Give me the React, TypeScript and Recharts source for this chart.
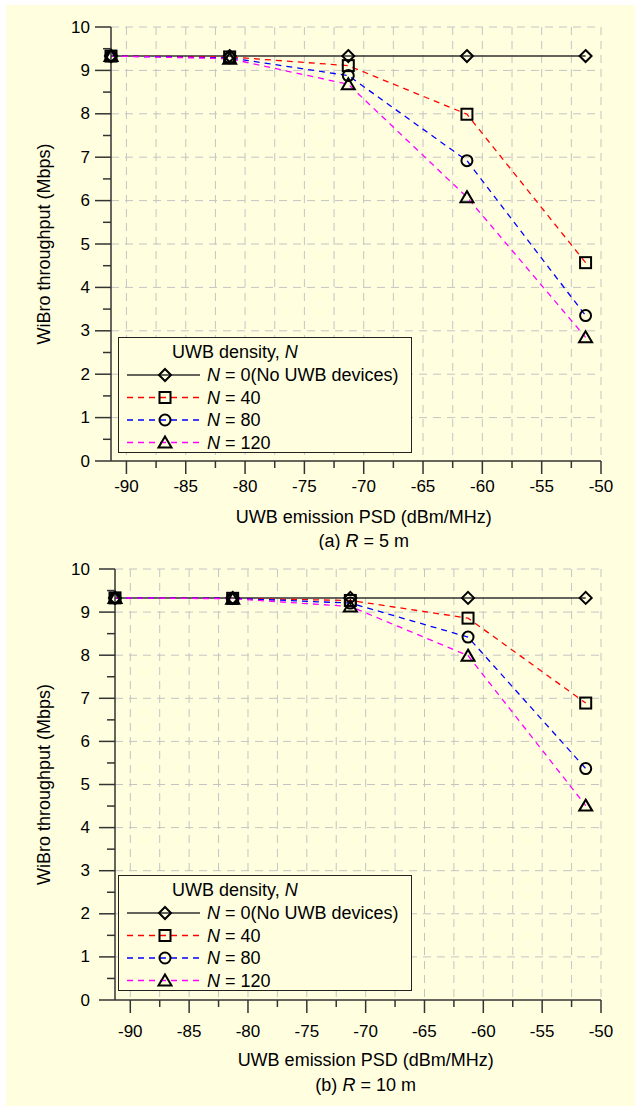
import { CartesianGrid, Legend, Line, LineChart, XAxis, YAxis } from "recharts";

// UWB emission PSD (dBm/MHz)
const psd = [-91.3, -81.3, -71.3, -61.3, -51.3];

// (a) R = 5 m, WiBro throughput (Mbps)
const r5N0 = [9.33, 9.33, 9.33, 9.33, 9.33];
const r5N40 = [9.33, 9.31, 9.11, 7.99, 4.57];
const r5N80 = [9.33, 9.29, 8.88, 6.92, 3.35];
const r5N120 = [9.33, 9.27, 8.68, 6.08, 2.85];

// (b) R = 10 m
const r10N0 = [9.33, 9.33, 9.33, 9.33, 9.33];
const r10N40 = [9.33, 9.32, 9.27, 8.86, 6.89];
const r10N80 = [9.33, 9.32, 9.21, 8.42, 5.37];
const r10N120 = [9.33, 9.31, 9.13, 7.99, 4.51];

const xTicks = [-90, -87.5, -85, -82.5, -80, -77.5, -75, -72.5, -70, -67.5, -65, -62.5, -60, -57.5, -55, -52.5, -50];
const yTicks = [0, 0.5, 1, 1.5, 2, 2.5, 3, 3.5, 4, 4.5, 5, 5.5, 6, 6.5, 7, 7.5, 8, 8.5, 9, 9.5, 10];
const yGrid = [1, 2, 3, 4, 5, 6, 7, 8, 9, 10];

const X_MIN = -91.3;
const X_MAX = -50;

const FONT = "'Liberation Sans', Arial, Helvetica, sans-serif";
const BG = "#ffffe0";
const AXIS = "#333333";

const series = [
  { key: "n0", label: "0(No UWB devices)", color: "#303030", dash: undefined, width: 1.5, shape: "diamond" },
  { key: "n40", label: "40", color: "#ff0000", dash: "6 5", width: 1.3, shape: "square" },
  { key: "n80", label: "80", color: "#0000ff", dash: "6 5", width: 1.3, shape: "circle" },
  { key: "n120", label: "120", color: "#ff00ff", dash: "6 5", width: 1.3, shape: "triangle" },
];

function buildRows(n0: number[], n40: number[], n80: number[], n120: number[]) {
  return psd.map((x, i) => ({ psd: x, n0: n0[i], n40: n40[i], n80: n80[i], n120: n120[i] }));
}

function Marker({ shape, cx, cy }: { shape: string; cx: number; cy: number }) {
  const s = { fill: "none", stroke: "#000", strokeWidth: 2 };
  if (shape === "diamond")
    return <polygon points={`${cx},${cy - 6} ${cx + 6},${cy} ${cx},${cy + 6} ${cx - 6},${cy}`} {...s} />;
  if (shape === "square") return <rect x={cx - 5.5} y={cy - 5.5} width={11} height={11} {...s} />;
  if (shape === "circle") return <circle cx={cx} cy={cy} r={5.5} {...s} />;
  return <polygon points={`${cx},${cy - 6} ${cx + 6.5},${cy + 5} ${cx - 6.5},${cy + 5}`} {...s} />;
}

const makeDot = (shape: string) => (p: any) => (
  <Marker key={`${shape}-${p.index}`} shape={shape} cx={p.cx} cy={p.cy} />
);

function XTick({ x, y, payload, gap }: any) {
  const major = payload.value % 5 === 0;
  return (
    <g>
      <line x1={x} x2={x} y1={y} y2={y + (major ? 13 : 7)} stroke={AXIS} strokeWidth={1.5} />
      {major && (
        <text x={x} y={y + gap} textAnchor="middle" dominantBaseline="central" fontSize={17} fontFamily={FONT} fill="#000">
          {payload.value}
        </text>
      )}
    </g>
  );
}

function YTick({ x, y, payload, gap }: any) {
  const major = Number.isInteger(payload.value);
  return (
    <g>
      <line x1={x - (major ? 16 : 8)} x2={x} y1={y} y2={y} stroke={AXIS} strokeWidth={1.5} />
      {major && (
        <text x={x - gap} y={y} textAnchor="end" dominantBaseline="central" fontSize={17} fontFamily={FONT} fill="#000">
          {payload.value}
        </text>
      )}
    </g>
  );
}

function XTitles({ viewBox, tag, r, titleGap, captionGap }: any) {
  const { x, y, width } = viewBox;
  const cx = x + (width * (-70 - X_MIN)) / (X_MAX - X_MIN);
  return (
    <g fontFamily={FONT} fontSize={18} fill="#000">
      <text x={cx} y={y + titleGap} textAnchor="middle" dominantBaseline="central">
        UWB emission PSD (dBm/MHz)
      </text>
      <text x={cx} y={y + captionGap} textAnchor="middle" dominantBaseline="central">
        {tag} <tspan fontStyle="italic">R</tspan> = {r} m
      </text>
    </g>
  );
}

function YTitle({ viewBox }: any) {
  const cy = viewBox.y + viewBox.height / 2;
  return (
    <text
      x={44}
      y={cy}
      transform={`rotate(-90 44 ${cy})`}
      textAnchor="middle"
      dominantBaseline="central"
      fontFamily={FONT}
      fontSize={18}
      fill="#000"
    >
      WiBro throughput (Mbps)
    </text>
  );
}

function LegendBox() {
  const rowY = [37, 59.5, 82, 104.5];
  return (
    <div style={{ width: 294, height: 116, boxSizing: "border-box", border: `1.5px solid #222`, background: BG }}>
      <svg width={291} height={113} style={{ display: "block" }}>
        <g fontFamily={FONT} fontSize={18} fill="#000">
          <text x={53} y={14} dominantBaseline="central">
            UWB density, <tspan fontStyle="italic">N</tspan>
          </text>
          {series.map((s, i) => (
            <g key={s.key}>
              <line x1={8} x2={81} y1={rowY[i]} y2={rowY[i]} stroke={s.color} strokeWidth={s.width} strokeDasharray={s.dash} />
              <Marker shape={s.shape} cx={46} cy={rowY[i]} />
              <text x={88} y={rowY[i]} dominantBaseline="central">
                <tspan fontStyle="italic">N</tspan> = {s.label}
              </text>
            </g>
          ))}
        </g>
      </svg>
    </div>
  );
}

type PanelProps = {
  rows: any[];
  height: number;
  top: number;
  axisWidth: number;
  xAxisHeight: number;
  tickGap: number;
  yLabelGap: number;
  titleGap: number;
  captionGap: number;
  legendTop: number;
  tag: string;
  r: string;
};

function Panel(p: PanelProps) {
  return (
    <LineChart width={635} height={p.height} data={p.rows} margin={{ top: p.top, right: 34, bottom: 0, left: 0 }}>
      <CartesianGrid stroke="#c4c4c4" strokeDasharray="8 6" horizontalValues={yGrid} verticalValues={xTicks} />
      <XAxis
        type="number"
        dataKey="psd"
        domain={[X_MIN, X_MAX]}
        ticks={xTicks}
        interval={0}
        height={p.xAxisHeight}
        tickSize={0}
        tickMargin={0}
        tickLine={false}
        axisLine={{ stroke: AXIS, strokeWidth: 1.5 }}
        tick={(t: any) => <XTick {...t} gap={p.tickGap} />}
        label={<XTitles tag={p.tag} r={p.r} titleGap={p.titleGap} captionGap={p.captionGap} />}
      />
      <YAxis
        type="number"
        domain={[0, 10]}
        ticks={yTicks}
        interval={0}
        width={p.axisWidth}
        tickSize={0}
        tickMargin={0}
        tickLine={false}
        axisLine={{ stroke: AXIS, strokeWidth: 1.5 }}
        tick={(t: any) => <YTick {...t} gap={p.yLabelGap} />}
        label={<YTitle />}
      />
      {series.map((s) => (
        <Line
          key={s.key}
          type="linear"
          dataKey={s.key}
          stroke={s.color}
          strokeWidth={s.width}
          strokeDasharray={s.dash}
          dot={makeDot(s.shape)}
          activeDot={false}
          isAnimationActive={false}
        />
      ))}
      <Legend
        layout="vertical"
        align="center"
        verticalAlign="middle"
        content={() => <LegendBox />}
        wrapperStyle={{ left: 118, top: p.legendTop, width: 294, height: 116 }}
      />
    </LineChart>
  );
}

export default function App() {
  return (
    <div style={{ position: "absolute", left: 0, top: 0, width: 635, height: 1106, background: "#fff" }}>
      <div style={{ position: "absolute", left: 6, top: 5, right: 0, bottom: 0, background: BG }} />
      <div style={{ position: "absolute", left: 0, top: 0 }}>
        <Panel
          rows={buildRows(r5N0, r5N40, r5N80, r5N120)}
          height={550}
          top={27}
          axisWidth={111}
          xAxisHeight={89}
          tickGap={25}
          yLabelGap={21}
          titleGap={56}
          captionGap={80}
          legendTop={337}
          tag="(a)"
          r="5"
        />
      </div>
      <div style={{ position: "absolute", left: 0, top: 540 }}>
        <Panel
          rows={buildRows(r10N0, r10N40, r10N80, r10N120)}
          height={566}
          top={29}
          axisWidth={115}
          xAxisHeight={106}
          tickGap={31}
          yLabelGap={25}
          titleGap={60}
          captionGap={85}
          legendTop={335}
          tag="(b)"
          r="10"
        />
      </div>
    </div>
  );
}
